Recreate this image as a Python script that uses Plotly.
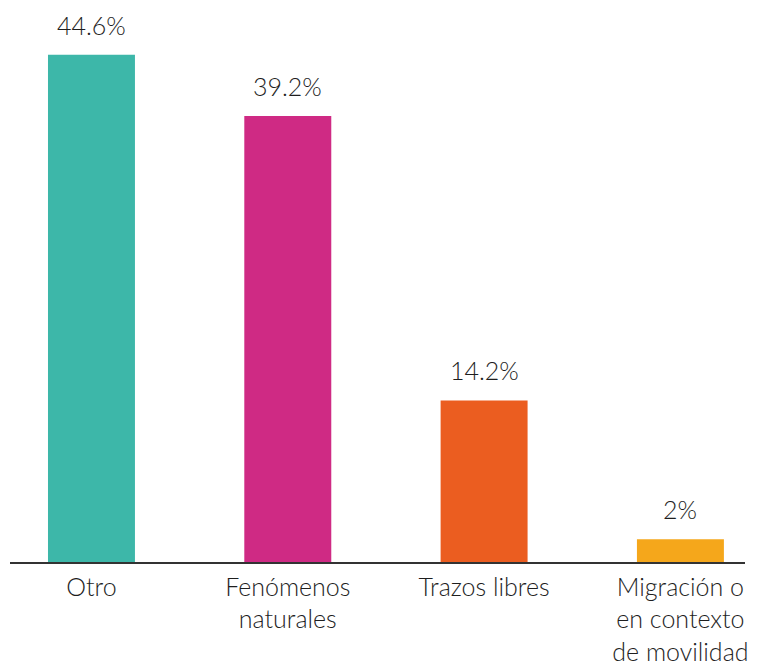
import plotly.graph_objects as go

categories = ["Otro", "Fenómenos<br>naturales", "Trazos libres", "Migración o<br>en contexto<br>de movilidad"]
values = [44.6, 39.2, 14.2, 2]
labels = ["44.6%", "39.2%", "14.2%", "2%"]
colors = ["#3DB7A9", "#CF2A84", "#EB5D20", "#F5A71B"]

font_family = "Lato, 'Open Sans', sans-serif"
text_color = "#1e1e1e"

x_pos = list(range(len(categories)))

fig = go.Figure()
fig.add_trace(
    go.Bar(
        x=x_pos,
        y=values,
        width=0.443,
        marker=dict(color=colors, line=dict(width=0)),
        hoverinfo="skip",
    )
)

# value labels above each bar
for xi, v, lab in zip(x_pos, values, labels):
    fig.add_annotation(
        x=xi, y=v, text=lab, showarrow=False,
        yanchor="bottom", yshift=13,
        font=dict(family=font_family, size=25, color=text_color, weight=300),
    )

# page body has an 8px margin, so the figure is a bit smaller than the window
fig.update_layout(
    width=754,
    height=658,
    margin=dict(l=2, r=17, t=0, b=104),
    paper_bgcolor="white",
    plot_bgcolor="white",
    showlegend=False,
    xaxis=dict(
        range=[-0.415, 3.329],
        tickvals=x_pos,
        ticktext=categories,
        showline=True,
        linecolor="#333333",
        linewidth=1.5,
        showgrid=False,
        zeroline=False,
        ticks="outside",
        ticklen=2,
        tickcolor="rgba(0,0,0,0)",
        automargin=False,
        tickfont=dict(family=font_family, size=25, color=text_color, weight=300),
    ),
    yaxis=dict(
        range=[0, 48.7],
        visible=False,
        showgrid=False,
        zeroline=False,
        automargin=False,
    ),
)

fig.write_html("out.html")
